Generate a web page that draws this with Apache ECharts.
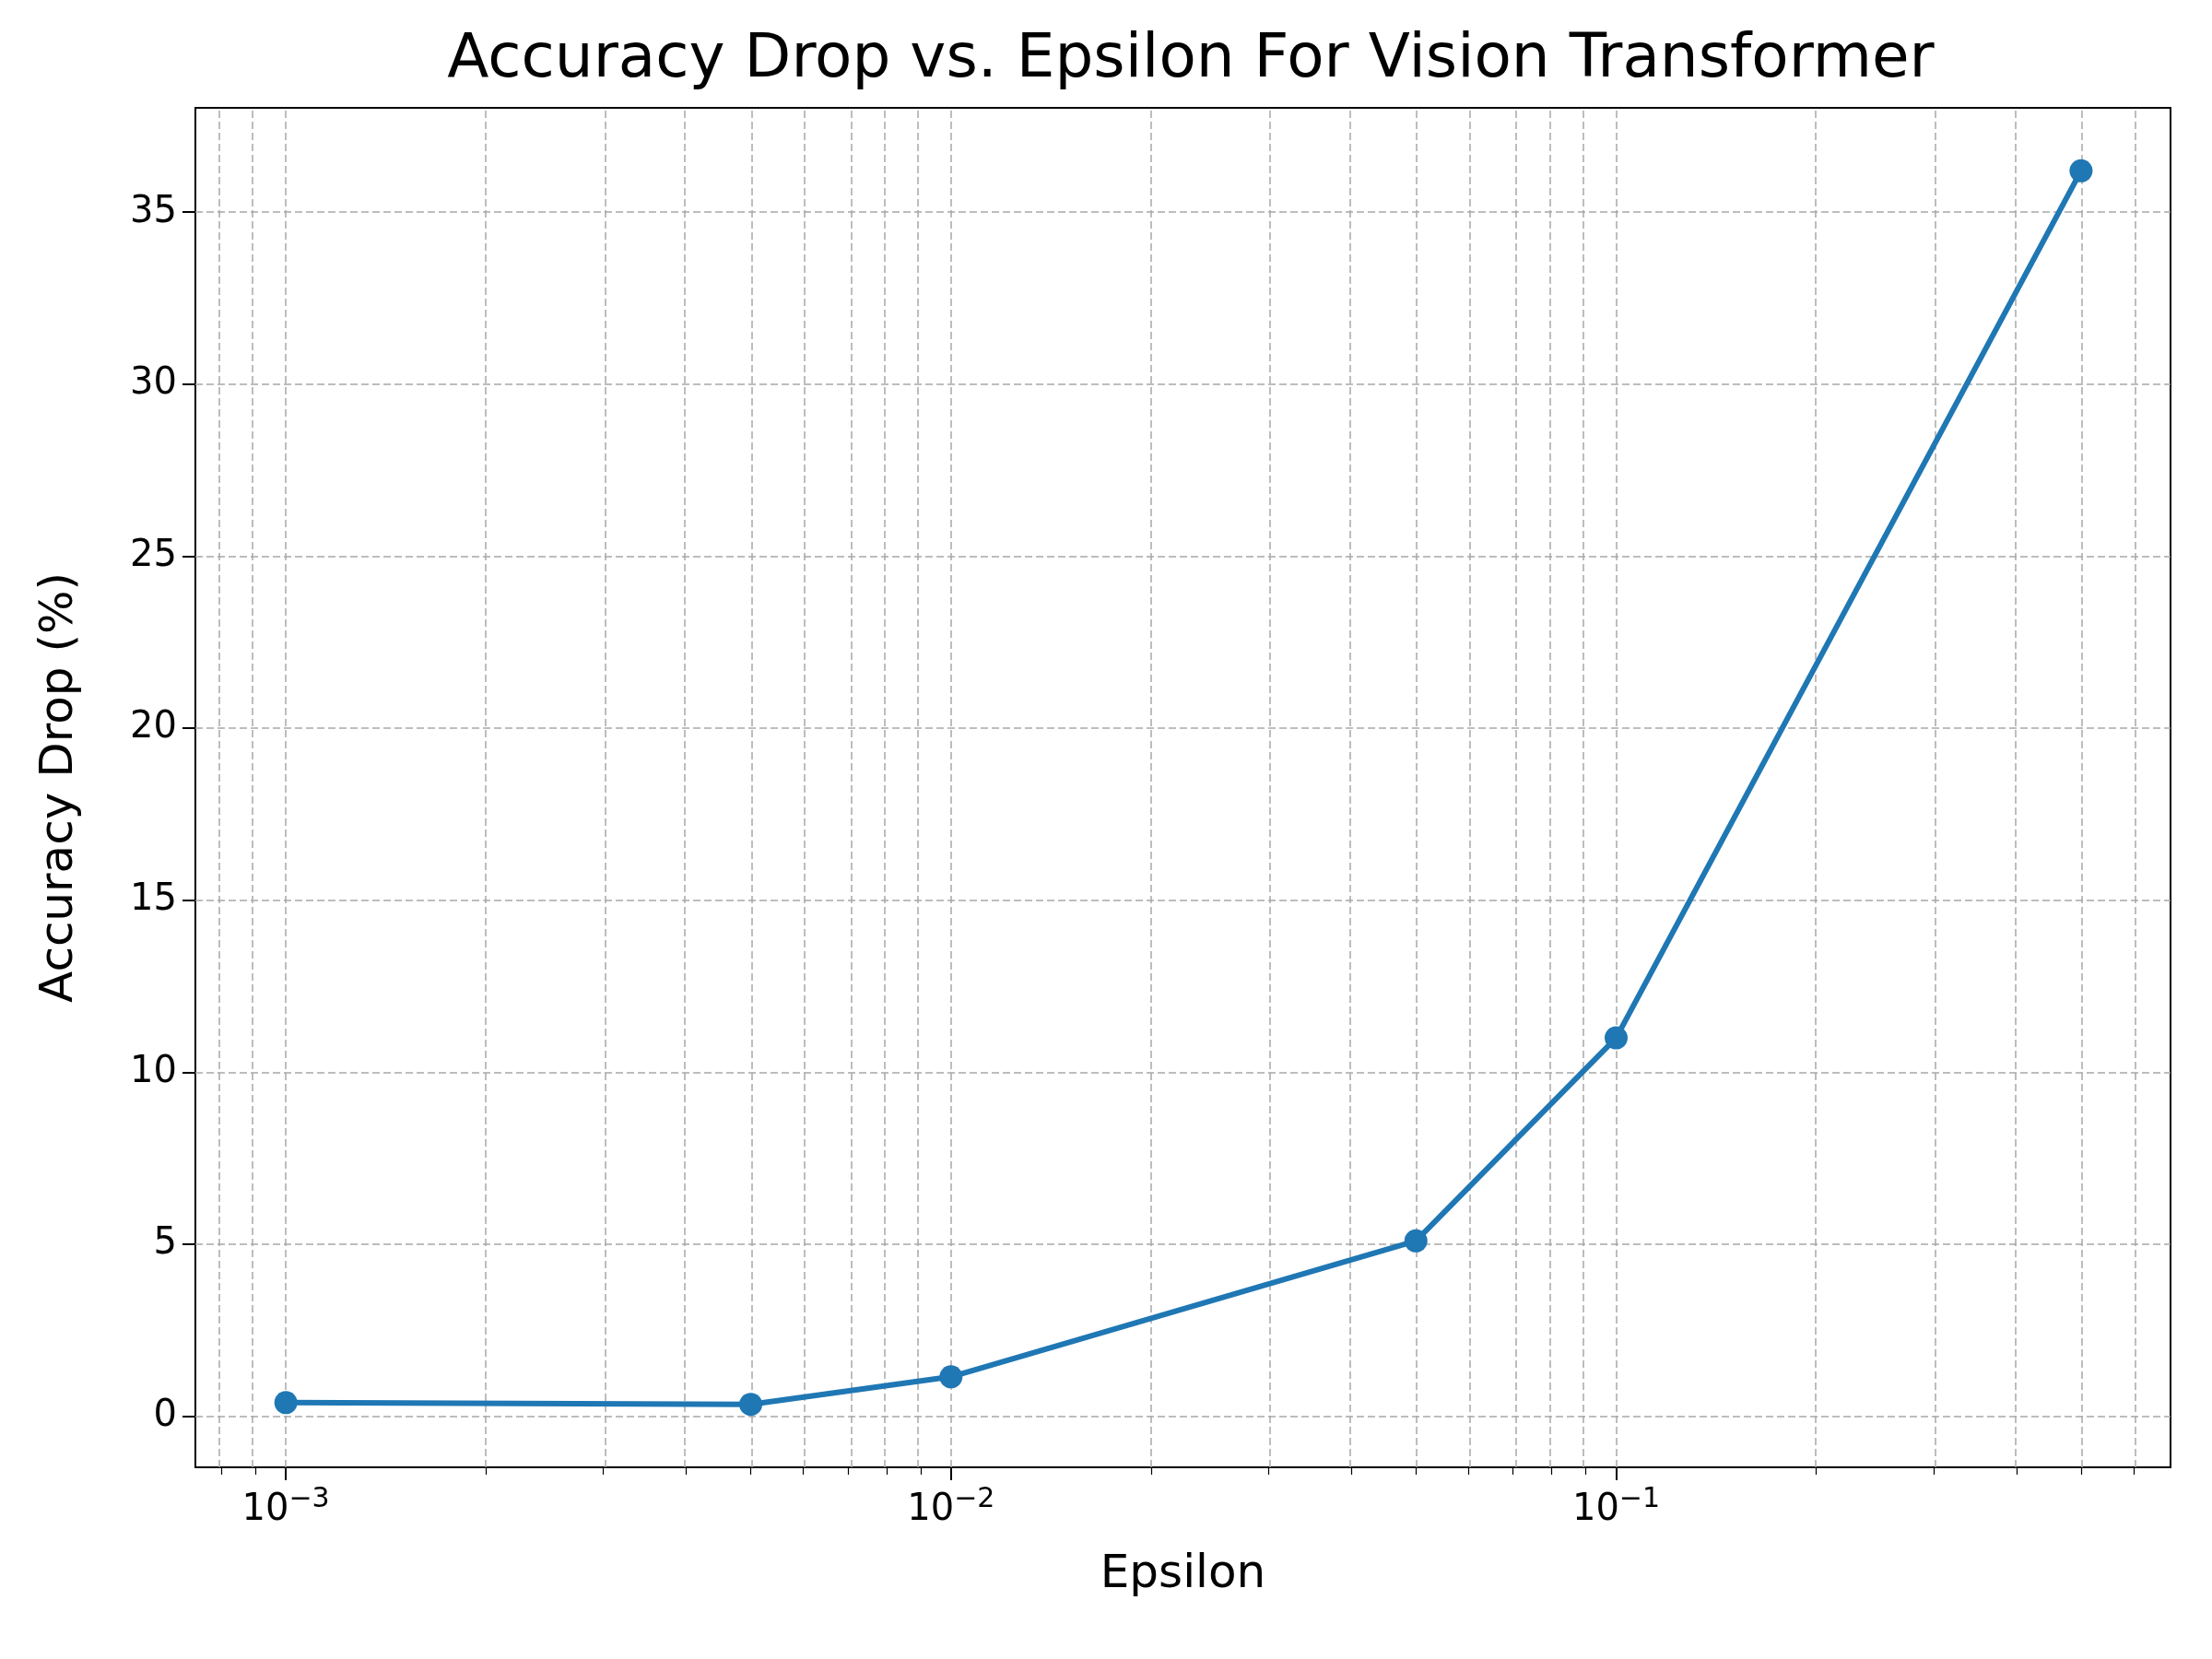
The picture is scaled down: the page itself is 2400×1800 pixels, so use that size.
<!DOCTYPE html>
<html><head><meta charset="utf-8">
<script src="https://cdn.jsdelivr.net/npm/echarts@6/dist/echarts.min.js"></script>
<style>html,body{margin:0;padding:0;background:#fff}#c{width:2400px;height:1800px}</style>
</head><body><div id="c"></div>
<script>
const epsilon = [0.001, 0.005, 0.01, 0.05, 0.1, 0.5];
const accuracyDrop = [0.4, 0.35, 1.15, 5.1, 11.0, 36.2];
const xMajorTicks = [0.001, 0.01, 0.1];
const xMinorTicks = [0.0008, 0.0009, 0.002, 0.003, 0.004, 0.005, 0.006, 0.007, 0.008, 0.009,
  0.02, 0.03, 0.04, 0.05, 0.06, 0.07, 0.08, 0.09, 0.2, 0.3, 0.4, 0.5, 0.6];
const yTicks = [0, 5, 10, 15, 20, 25, 30, 35];

const lg = v => Math.log10(v);
const font = 'DejaVu Sans';
const gridStyle = {type: [8, 4], color: '#a8a8a8', width: 1.5};
const xMin = -3.136, xMax = -0.1665, yMin = -1.48, yMax = 38.03;

const gridLines = [
  ...xMajorTicks.map(v => ({xAxis: lg(v)})),
  ...xMinorTicks.map(v => ({xAxis: lg(v)})),
  ...yTicks.map(v => ({yAxis: v}))
];
const sup = {'-3': '−3', '-2': '−2', '-1': '−1'};

const baseX = {type: 'value', min: xMin, max: xMax, position: 'bottom', splitLine: {show: false},
  axisLine: {show: true, onZero: false, lineStyle: {color: '#000', width: 2}}};
const chart = echarts.init(document.getElementById('c'));
chart.setOption({
  animation: false,
  title: {text: 'Accuracy Drop vs. Epsilon For Vision Transformer', left: 1287, top: 28, textAlign: 'center',
    textStyle: {fontFamily: font, fontSize: 66, fontWeight: 'normal', color: '#000'}},
  grid: {left: 212, right: 45, top: 117, bottom: 208, show: true, borderColor: '#000', borderWidth: 2},
  xAxis: [
    Object.assign({}, baseX, {
      name: 'Epsilon', nameLocation: 'middle', nameGap: 92,
      nameTextStyle: {fontFamily: font, fontSize: 50, color: '#000'},
      axisTick: {show: true, length: 14, lineStyle: {color: '#000', width: 2}, customValues: xMajorTicks.map(lg)},
      axisLabel: {show: true, margin: 20, customValues: xMajorTicks.map(lg),
        formatter: v => '10{s|' + sup[String(Math.round(v))] + '}',
        rich: {s: {fontFamily: font, fontSize: 30, color: '#000', verticalAlign: 'top', padding: [0, 0, 24, 0]}},
        fontFamily: font, fontSize: 40, color: '#000'}
    }),
    Object.assign({}, baseX, {
      axisTick: {show: true, length: 8, lineStyle: {color: '#000', width: 1.2}, customValues: xMinorTicks.map(lg)},
      axisLabel: {show: false}
    })
  ],
  yAxis: {type: 'value', min: yMin, max: yMax, splitLine: {show: false},
    name: 'Accuracy Drop (%)', nameLocation: 'middle', nameGap: 122,
    nameTextStyle: {fontFamily: font, fontSize: 50, color: '#000'},
    axisLine: {show: true, lineStyle: {color: '#000', width: 2}},
    axisTick: {show: true, length: 14, lineStyle: {color: '#000', width: 2}, customValues: yTicks},
    axisLabel: {customValues: yTicks, margin: 20, fontFamily: font, fontSize: 40, color: '#000'}},
  series: [
    {type: 'line', data: [], xAxisIndex: 0, silent: true,
      markLine: {silent: true, symbol: ['none', 'none'], label: {show: false}, lineStyle: gridStyle, data: gridLines, animation: false}},
    {type: 'line', xAxisIndex: 0, data: epsilon.map((e, i) => [lg(e), accuracyDrop[i]]),
      symbol: 'circle', symbolSize: 25, lineStyle: {color: '#1f77b4', width: 6},
      itemStyle: {color: '#1f77b4'}, z: 5}
  ]
});
</script></body></html>
